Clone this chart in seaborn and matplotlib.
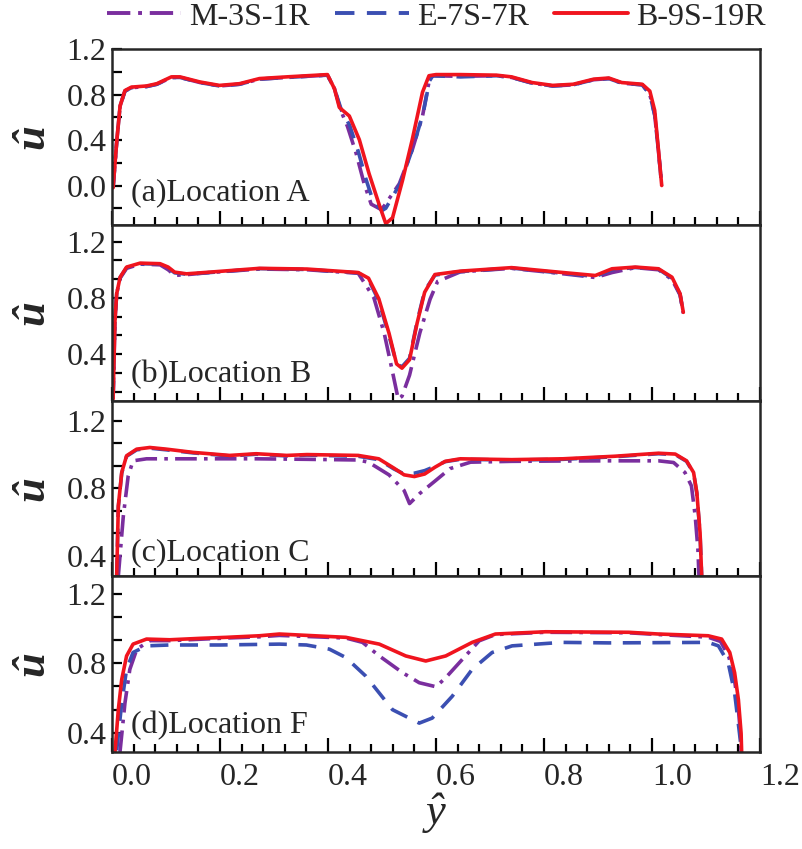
import matplotlib
matplotlib.use("Agg")
import matplotlib.pyplot as plt
import matplotlib.transforms as mtransforms
from matplotlib.ticker import MultipleLocator, AutoMinorLocator
import numpy as np
import pandas as pd
import seaborn as sns

# ---------------- data ----------------
cases = ["M-3S-1R", "E-7S-7R", "B-9S-19R"]
panel_titles = ["(a)Location A", "(b)Location B", "(c)Location C", "(d)Location F"]

# Location A
red_a_x = [0.002, 0.009, 0.015, 0.024, 0.036, 0.064, 0.083, 0.110, 0.126, 0.163, 0.199, 0.236, 0.273, 0.3235,
           0.380, 0.399, 0.412, 0.421, 0.4395, 0.458, 0.476, 0.4945, 0.507, 0.5195, 0.538, 0.556, 0.575, 0.587,
           0.600, 0.645, 0.712, 0.740, 0.778, 0.816, 0.854, 0.892, 0.920, 0.944, 0.982, 0.996, 1.005, 1.012, 1.018]
red_a_y = [-0.02, 0.40, 0.70, 0.835, 0.865, 0.875, 0.895, 0.955, 0.955, 0.91, 0.88, 0.895, 0.94, 0.955,
           0.97, 0.975, 0.85, 0.686, 0.611, 0.403, 0.105, -0.164, -0.335, -0.284, 0.045, 0.403, 0.82, 0.965,
           0.975, 0.975, 0.97, 0.955, 0.905, 0.88, 0.89, 0.935, 0.945, 0.905, 0.89, 0.83, 0.66, 0.31, 0.0]
purple_a_x = [0.002, 0.009, 0.015, 0.024, 0.036, 0.064, 0.083, 0.110, 0.126, 0.163, 0.199, 0.236, 0.273, 0.3235,
              0.380, 0.399, 0.412, 0.424, 0.436, 0.452, 0.467, 0.480, 0.498, 0.504, 0.532, 0.556, 0.575, 0.587,
              0.593, 0.645, 0.712, 0.740, 0.778, 0.816, 0.854, 0.892, 0.920, 0.944, 0.982, 0.996, 1.005, 1.012, 1.018]
purple_a_y = [-0.02, 0.40, 0.70, 0.83, 0.86, 0.87, 0.89, 0.95, 0.95, 0.905, 0.875, 0.89, 0.935, 0.95,
              0.965, 0.97, 0.85, 0.656, 0.52, 0.284, 0.015, -0.164, -0.21, -0.18, 0.015, 0.313, 0.61, 0.91,
              0.965, 0.96, 0.965, 0.95, 0.90, 0.875, 0.885, 0.93, 0.94, 0.90, 0.885, 0.80, 0.62, 0.30, 0.0]
blue_a_x = [0.002, 0.009, 0.015, 0.024, 0.036, 0.064, 0.083, 0.110, 0.126, 0.163, 0.199, 0.236, 0.273, 0.3235,
            0.380, 0.399, 0.412, 0.425, 0.440, 0.456, 0.470, 0.483, 0.500, 0.507, 0.534, 0.557, 0.576, 0.588,
            0.594, 0.645, 0.712, 0.740, 0.778, 0.816, 0.854, 0.892, 0.920, 0.944, 0.982, 0.996, 1.005, 1.012, 1.018]
blue_a_y = [-0.02, 0.40, 0.70, 0.83, 0.86, 0.87, 0.89, 0.95, 0.95, 0.905, 0.875, 0.89, 0.935, 0.95,
            0.965, 0.97, 0.85, 0.66, 0.53, 0.30, 0.06, -0.13, -0.22, -0.20, 0.02, 0.33, 0.63, 0.92,
            0.965, 0.955, 0.965, 0.95, 0.90, 0.875, 0.885, 0.93, 0.94, 0.90, 0.885, 0.80, 0.62, 0.30, 0.0]

# Location B
red_b_x = [0.002, 0.0055, 0.0087, 0.015, 0.027, 0.052, 0.089, 0.104, 0.116, 0.138, 0.181, 0.273, 0.361, 0.456,
           0.475, 0.494, 0.513, 0.527, 0.537, 0.551, 0.565, 0.579, 0.598, 0.645, 0.740, 0.827, 0.895, 0.926,
           0.969, 1.012, 1.037, 1.052, 1.058]
red_b_y = [0.08, 0.64, 0.83, 0.947, 1.019, 1.047, 1.043, 1.019, 0.983, 0.971, 0.983, 1.01, 1.005, 0.98,
           0.94, 0.794, 0.548, 0.33, 0.30, 0.36, 0.62, 0.84, 0.966, 0.99, 1.015, 0.983, 0.959, 1.007,
           1.019, 1.007, 0.947, 0.83, 0.697]
purple_b_x = [0.002, 0.0055, 0.0087, 0.015, 0.027, 0.052, 0.089, 0.104, 0.116, 0.138, 0.181, 0.273, 0.361, 0.456,
              0.485, 0.504, 0.518, 0.530, 0.537, 0.551, 0.570, 0.589, 0.603, 0.645, 0.740, 0.827, 0.895, 0.926,
              0.969, 1.012, 1.037, 1.052, 1.058]
purple_b_y = [0.08, 0.64, 0.83, 0.94, 1.01, 1.04, 1.035, 1.00, 0.96, 0.965, 0.98, 1.005, 1.00, 0.975,
              0.80, 0.55, 0.30, 0.08, 0.10, 0.25, 0.55, 0.79, 0.917, 0.985, 1.01, 0.975, 0.945, 0.98,
              1.015, 1.00, 0.93, 0.82, 0.69]
blue_b_x = red_b_x
blue_b_y = [0.08, 0.64, 0.83, 0.945, 1.015, 1.043, 1.04, 1.012, 0.978, 0.968, 0.98, 1.008, 1.002, 0.978,
            0.93, 0.78, 0.53, 0.33, 0.31, 0.37, 0.63, 0.85, 0.962, 0.987, 1.012, 0.978, 0.952, 1.00,
            1.016, 1.004, 0.94, 0.825, 0.69]

# Location C
red_c_x = [0.0087, 0.0117, 0.018, 0.027, 0.0456, 0.070, 0.101, 0.150, 0.218, 0.267, 0.3235, 0.361, 0.456,
           0.494, 0.522, 0.541, 0.560, 0.579, 0.598, 0.617, 0.645, 0.740, 0.835, 0.930, 1.012, 1.043, 1.064,
           1.077, 1.083, 1.089, 1.092]
red_c_y = [0.28, 0.696, 0.894, 0.993, 1.032, 1.042, 1.032, 1.013, 0.995, 1.005, 0.995, 1.00, 0.995,
           0.975, 0.92, 0.88, 0.87, 0.885, 0.925, 0.96, 0.975, 0.97, 0.975, 0.99, 1.008, 1.003, 0.963,
           0.894, 0.775, 0.538, 0.28]
purple_c_x = [0.0117, 0.021, 0.030, 0.039, 0.064, 0.150, 0.267, 0.361, 0.456, 0.475, 0.513, 0.541, 0.551,
              0.570, 0.598, 0.626, 0.664, 0.740, 0.835, 0.920, 1.012, 1.040, 1.061, 1.073, 1.080, 1.085, 1.087]
purple_c_y = [0.28, 0.637, 0.874, 0.963, 0.975, 0.975, 0.975, 0.972, 0.968, 0.955, 0.88, 0.787, 0.71,
              0.77, 0.843, 0.917, 0.955, 0.96, 0.962, 0.963, 0.963, 0.953, 0.894, 0.815, 0.637, 0.44, 0.28]
blue_c_x = red_c_x
blue_c_y = [0.28, 0.69, 0.89, 0.99, 1.028, 1.038, 1.028, 1.01, 0.992, 1.002, 0.992, 0.997, 0.99,
            0.97, 0.915, 0.885, 0.89, 0.905, 0.93, 0.958, 0.972, 0.968, 0.972, 0.987, 1.005, 1.0, 0.96,
            0.89, 0.77, 0.53, 0.28]

# Location F
red_d_x = [0.0055, 0.0117, 0.018, 0.027, 0.039, 0.064, 0.107, 0.1625, 0.212, 0.273, 0.310, 0.433, 0.495,
           0.544, 0.581, 0.618, 0.667, 0.710, 0.803, 0.957, 1.012, 1.104, 1.129, 1.144, 1.153, 1.160, 1.165, 1.166]
red_d_y = [0.29, 0.533, 0.707, 0.842, 0.91, 0.939, 0.935, 0.943, 0.949, 0.958, 0.968, 0.949, 0.91,
           0.842, 0.813, 0.842, 0.92, 0.968, 0.981, 0.978, 0.968, 0.958, 0.939, 0.862, 0.746, 0.591, 0.398, 0.29]
purple_d_x = [0.0148, 0.024, 0.033, 0.046, 0.070, 0.107, 0.1625, 0.212, 0.273, 0.310, 0.433, 0.464, 0.495,
              0.538, 0.569, 0.600, 0.618, 0.649, 0.680, 0.710, 0.803, 0.957, 1.012, 1.104, 1.127, 1.142,
              1.152, 1.159, 1.164, 1.165]
purple_d_y = [0.29, 0.572, 0.765, 0.881, 0.93, 0.93, 0.938, 0.945, 0.952, 0.96, 0.945, 0.92, 0.842,
              0.746, 0.688, 0.665, 0.717, 0.823, 0.929, 0.965, 0.978, 0.975, 0.965, 0.95, 0.925, 0.84,
              0.72, 0.57, 0.39, 0.29]
blue_d_x = [0.0087, 0.018, 0.027, 0.039, 0.064, 0.107, 0.200, 0.310, 0.360, 0.4026, 0.433, 0.470, 0.5195,
            0.569, 0.593, 0.630, 0.667, 0.704, 0.741, 0.833, 0.920, 1.104, 1.123, 1.141, 1.153, 1.162, 1.166]
blue_d_y = [0.30, 0.572, 0.765, 0.862, 0.90, 0.905, 0.905, 0.91, 0.905, 0.881, 0.833, 0.726, 0.533,
            0.456, 0.485, 0.61, 0.765, 0.862, 0.90, 0.92, 0.917, 0.92, 0.90, 0.804, 0.63, 0.398, 0.29]

series = [
    [(purple_a_x, purple_a_y), (blue_a_x, blue_a_y), (red_a_x, red_a_y)],
    [(purple_b_x, purple_b_y), (blue_b_x, blue_b_y), (red_b_x, red_b_y)],
    [(purple_c_x, purple_c_y), (blue_c_x, blue_c_y), (red_c_x, red_c_y)],
    [(purple_d_x, purple_d_y), (blue_d_x, blue_d_y), (red_d_x, red_d_y)],
]

y_limits = [(-0.345, 1.2), (0.07, 1.32), (0.28, 1.32), (0.29, 1.30)]
y_minor_div = [2, 3, 3, 3]
label_y = [0.18, 0.15, 0.135, 0.15]

# ---------------- style ----------------
sns.set_style("ticks")
plt.rcParams["font.family"] = ["Liberation Serif", "DejaVu Serif"]
plt.rcParams["axes.linewidth"] = 1.8

palette = {"M-3S-1R": "#7a2e9e", "E-7S-7R": "#3b4fb2", "B-9S-19R": "#f0141e"}
dashes = {"M-3S-1R": (6.0, 2.0, 1.0, 2.0), "E-7S-7R": (5.0, 3.2), "B-9S-19R": ""}

fig = plt.figure(figsize=(8.02, 8.49), dpi=100)
left, right = 112 / 802, 760 / 802
top, bottom = 1 - 49 / 849, 1 - 752 / 849
h = (top - bottom) / 4
axes = [fig.add_axes([left, top - (i + 1) * h, right - left, h]) for i in range(4)]

for i, ax in enumerate(axes):
    frames = []
    for case, (xs, ys) in zip(cases, series[i]):
        frames.append(pd.DataFrame({"yhat": xs, "uhat": ys, "case": case}))
    df = pd.concat(frames, ignore_index=True)
    sns.lineplot(data=df, x="yhat", y="uhat", hue="case", style="case",
                 hue_order=cases, style_order=cases, palette=palette, dashes=dashes,
                 sort=False, estimator=None, linewidth=2.6, ax=ax, legend=(i == 0))
    ax.set_xlim(0, 1.2)
    ax.set_ylim(*y_limits[i])
    ax.xaxis.set_major_locator(MultipleLocator(0.2))
    ax.xaxis.set_minor_locator(MultipleLocator(0.04))
    ax.yaxis.set_major_locator(MultipleLocator(0.4))
    ax.yaxis.set_minor_locator(AutoMinorLocator(y_minor_div[i]))
    ax.tick_params(axis="both", which="both", direction="in", bottom=True, left=True,
                   top=False, right=False, width=1.6, color="black", labelsize=23)
    ax.tick_params(axis="x", which="major", length=10)
    ax.tick_params(axis="x", which="minor", length=5.5)
    ax.tick_params(axis="y", which="both", length=7, pad=4)
    ax.set_xlabel("")
    ax.set_ylabel("û", fontsize=32, fontweight="bold", fontstyle="italic", rotation=90)
    ax.yaxis.set_label_coords(-0.092, 0.5)
    ax.text(0.03, label_y[i], panel_titles[i], transform=ax.transAxes, fontsize=23,
            ha="left", va="center")
    for s in ax.spines.values():
        s.set_linewidth(1.8)
    if i < 3:
        ax.tick_params(axis="x", labelbottom=False)
    else:
        ax.tick_params(axis="x", pad=8)
        ax.set_xlabel("ŷ", fontsize=32, fontstyle="italic", labelpad=0)
        shift = mtransforms.ScaledTranslation(0.2, 0, fig.dpi_scale_trans)
        for lbl in ax.get_xticklabels():
            lbl.set_transform(lbl.get_transform() + shift)

handles, labels = axes[0].get_legend_handles_labels()
axes[0].get_legend().remove()
for hnd in handles:
    hnd.set_linewidth(2.8)
fig.legend(handles, labels, loc="center", bbox_to_anchor=(0.544, 1 - 17 / 849), ncol=3,
           frameon=False, fontsize=23, handlelength=2.3, columnspacing=0.8, handletextpad=0.25,
           borderaxespad=0)

fig.savefig("out.png", dpi=100)
